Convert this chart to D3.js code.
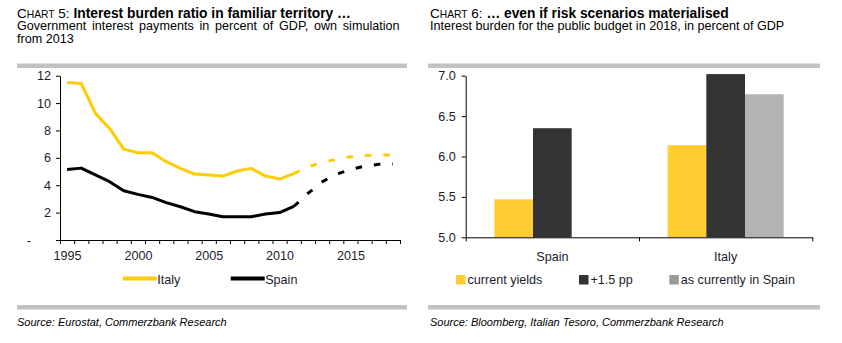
<!DOCTYPE html>
<html>
<head>
<meta charset="utf-8">
<script src="https://cdn.jsdelivr.net/npm/d3@7"></script>
<style>
  html, body { margin: 0; padding: 0; background: #fff; }
  svg { display: block; font-family: "Liberation Sans", Arial, sans-serif; }
</style>
</head>
<body>
<svg id="chart" width="842" height="343"></svg>
<script>
// chart 5: interest payments, % of GDP
const years = [1995, 1996, 1997, 1998, 1999, 2000, 2001, 2002, 2003, 2004, 2005, 2006,
  2007, 2008, 2009, 2010, 2011, 2012, 2013, 2014, 2015, 2016, 2017, 2018];
const histYears = [1995, 1996, 1997, 1998, 1999, 2000, 2001, 2002, 2003, 2004, 2005, 2006,
  2007, 2008, 2009, 2010, 2011];
const simYears = [2011, 2012, 2013, 2014, 2015, 2016, 2017, 2018];
const italyHist = [11.5, 11.43, 9.25, 8.15, 6.64, 6.37, 6.37, 5.72, 5.23, 4.82, 4.74, 4.67,
  5.04, 5.23, 4.67, 4.45, 4.85];
const italySim = [4.85, 5.35, 5.65, 5.9, 6.08, 6.18, 6.2, 6.2];
const spainHist = [5.15, 5.25, 4.75, 4.26, 3.6, 3.33, 3.11, 2.73, 2.43, 2.07, 1.9, 1.7,
  1.7, 1.7, 1.9, 2.0, 2.45];
const spainSim = [2.45, 3.4, 4.25, 4.8, 5.15, 5.4, 5.53, 5.55];
const yearLabels = [1995, 2000, 2005, 2010, 2015];
const burdenTicks = [0, 2, 4, 6, 8, 10, 12];

// chart 6: interest burden 2018 by scenario
const countries = ["Spain", "Italy"];
const scenarios = ["current yields", "+1.5 pp", "as currently in Spain"];
const spainBars = [5.47, 6.35, null];
const italyBars = [6.14, 7.02, 6.77];
const scenarioTicks = [5.0, 5.5, 6.0, 6.5, 7.0];

const YELLOW = "#ffcc00";
const BAR_YELLOW = "#ffcd33";
const DARK = "#333333";
const GREY = "#b3b3b3";
const LABEL = "#1c1c2c";
const FS = 12.6;

const svg = d3.select("#chart");

// ---------- headers, separators and sources ----------
function header(x, num, boldText) {
  const t = svg.append("text").attr("x", x).attr("y", 17.5).attr("fill", "#000");
  t.append("tspan").attr("font-size", 13.5).text("C");
  t.append("tspan").attr("font-size", 10.3).text("HART");
  t.append("tspan").attr("font-size", 13.5).text(` ${num}: `);
  t.append("tspan").attr("font-size", 13.8).attr("font-weight", 700).text(boldText);
}
header(17, 5, "Interest burden ratio in familiar territory …");
header(430, 6, "… even if risk scenarios materialised");

// justified first subtitle line of chart 5
const sub1 = svg.append("text")
  .attr("x", 17).attr("y", 29.8)
  .attr("font-size", FS).attr("fill", "#000")
  .text("Government interest payments in percent of GDP, own simulation");
const natural = sub1.node().getComputedTextLength();
const gaps = sub1.text().split(" ").length - 1;
sub1.attr("word-spacing", (399.5 - 17 - natural) / gaps);

svg.append("text").attr("x", 17).attr("y", 42.8)
  .attr("font-size", FS).attr("fill", "#000").text("from 2013");
svg.append("text").attr("x", 430).attr("y", 29.8)
  .attr("font-size", FS).attr("fill", "#000")
  .text("Interest burden for the public budget in 2018, in percent of GDP");

[[17, 407], [428, 820]].forEach(([x0, x1]) => {
  [63.5, 305].forEach((y) => {
    svg.append("rect").attr("x", x0).attr("y", y)
      .attr("width", x1 - x0).attr("height", 4.5).attr("fill", "#c2c2c2");
  });
});

svg.append("text").attr("x", 17).attr("y", 326)
  .attr("font-size", 11).attr("font-style", "italic").attr("fill", "#000")
  .text("Source: Eurostat, Commerzbank Research");
svg.append("text").attr("x", 430).attr("y", 326)
  .attr("font-size", 11).attr("font-style", "italic").attr("fill", "#000")
  .text("Source: Bloomberg, Italian Tesoro, Commerzbank Research");

// ---------- chart 5: line chart ----------
const x5 = d3.scaleLinear().domain([1994.5, 2018.5]).range([60, 400]);
const y5 = d3.scaleLinear().domain([0, 12]).range([240, 75.7]);

const yAxis5 = svg.append("g")
  .attr("transform", "translate(60,0)")
  .call(d3.axisLeft(y5).tickValues(burdenTicks).tickSize(4).tickSizeOuter(0).tickPadding(5)
    .tickFormat((d) => (d === 0 ? "-" : d)));
yAxis5.selectAll("text").filter((d) => d === 0).attr("dx", -20);

const xAxis5 = svg.append("g")
  .attr("transform", "translate(0,240)")
  .call(d3.axisBottom(x5).tickValues(years.map((y) => y - 0.5).concat([2018.5]))
    .tickSize(4).tickSizeOuter(0).tickFormat(""));
svg.append("g")
  .attr("transform", "translate(0,240)")
  .call(d3.axisBottom(x5).tickValues(yearLabels).tickSize(0).tickPadding(11)
    .tickFormat(d3.format("d")))
  .call((g) => g.select(".domain").remove());

const line5 = d3.line()
  .x((d) => x5(d[0]))
  .y((d) => y5(d[1]));

function series(yrs, vals, colour, dashed) {
  svg.append("path")
    .datum(d3.zip(yrs, vals))
    .attr("fill", "none")
    .attr("stroke", colour)
    .attr("stroke-width", 3)
    .attr("stroke-linejoin", "round")
    .attr("stroke-dasharray", dashed ? "6.5,12" : null)
    .attr("d", line5);
}
series(simYears, italySim, YELLOW, true);
series(simYears, spainSim, "#000", true);
series(histYears, italyHist, YELLOW, false);
series(histYears, spainHist, "#000", false);

// legend
[["Italy", YELLOW, 122.7], ["Spain", "#000", 230.7]].forEach(([name, colour, lx]) => {
  svg.append("line").attr("x1", lx).attr("x2", lx + 34).attr("y1", 278.5).attr("y2", 278.5)
    .attr("stroke", colour).attr("stroke-width", 4);
  svg.append("text").attr("x", lx + 34.5).attr("y", 283.5)
    .attr("font-size", FS).attr("fill", LABEL).text(name);
});

// ---------- chart 6: grouped bars ----------
const x6 = d3.scaleBand().domain(countries).range([465.7, 812.3]);
const xs6 = d3.scaleBand().domain(scenarios).range([0, x6.bandwidth()]).paddingOuter(0.74);
const y6 = d3.scaleLinear().domain([5, 7]).range([237.3, 75.7]);
const colours6 = d3.scaleOrdinal().domain(scenarios).range([BAR_YELLOW, DARK, GREY]);

const barRows = [spainBars, italyBars];
countries.forEach((c, i) => {
  const g = svg.append("g").attr("transform", `translate(${x6(c)},0)`);
  scenarios.forEach((s, j) => {
    const v = barRows[i][j];
    if (v == null) return;
    g.append("rect")
      .attr("x", xs6(s))
      .attr("width", xs6.bandwidth())
      .attr("y", y6(v))
      .attr("height", y6(5) - y6(v))
      .attr("fill", colours6(s));
  });
});

svg.append("g")
  .attr("transform", "translate(465.7,0)")
  .call(d3.axisLeft(y6).tickValues(scenarioTicks).tickSize(4).tickSizeOuter(0).tickPadding(6)
    .tickFormat(d3.format(".1f")));
svg.append("g")
  .attr("transform", "translate(0,237.3)")
  .call(d3.axisBottom(x6).tickSize(0).tickPadding(14.5));
svg.append("g")
  .attr("transform", "translate(0,237.3)")
  .call(d3.axisBottom(d3.scaleLinear().domain([0, 2]).range(x6.range()))
    .tickValues([0, 1, 2]).tickSize(4).tickSizeOuter(0).tickFormat(""))
  .call((g) => g.select(".domain").remove());

svg.selectAll(".tick text").attr("font-size", FS).attr("fill", LABEL)
  .attr("font-family", "Liberation Sans, Arial, sans-serif");
svg.selectAll(".domain, .tick line").attr("stroke", "#000");

// legend
const legendSquares = ["#ffcd33", DARK, "#9a9a9a"];
[456, 579, 669.3].forEach((lx, i) => {
  svg.append("rect").attr("x", lx).attr("y", 275).attr("width", 9.5).attr("height", 9.5)
    .attr("fill", legendSquares[i]);
  svg.append("text").attr("x", lx + 11.5).attr("y", 283.5)
    .attr("font-size", FS).attr("fill", LABEL).text(scenarios[i]);
});
</script>
</body>
</html>
